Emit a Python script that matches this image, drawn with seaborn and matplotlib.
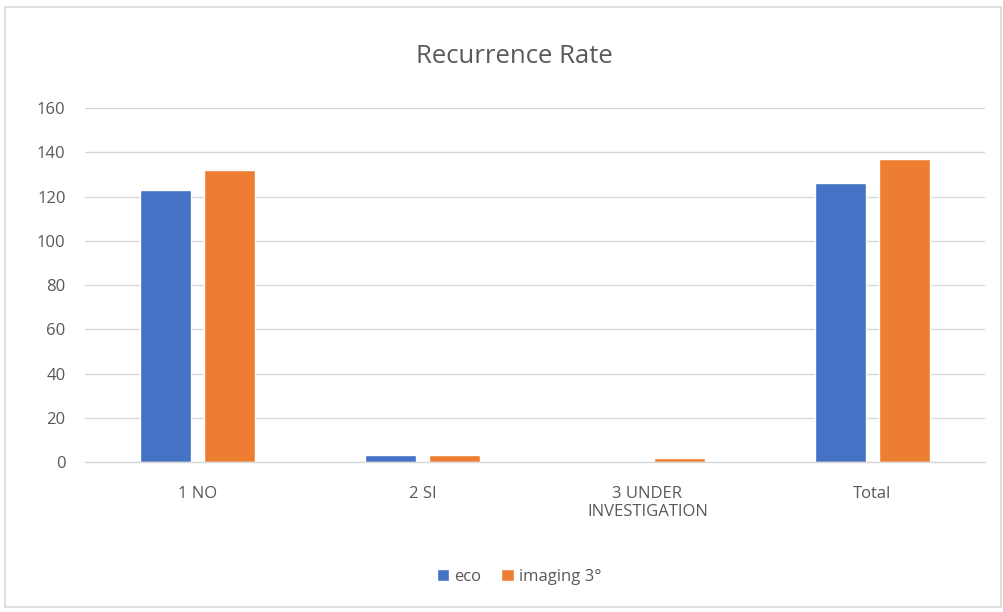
import matplotlib
matplotlib.use("Agg")
import matplotlib.pyplot as plt
from matplotlib.patches import Rectangle
import seaborn as sns
import pandas as pd

categories = ["1 NO", "2 SI", "3 UNDER\nINVESTIGATION", "Total"]
eco = [123, 3, 0, 126]
imaging = [132, 3, 2, 137]
series_names = ["eco", "imaging 3°"]
y_ticks = [0, 20, 40, 60, 80, 100, 120, 140, 160]

df = pd.DataFrame({
    "category": categories * 2,
    "series": [series_names[0]] * len(categories) + [series_names[1]] * len(categories),
    "value": eco + imaging,
})

sns.set_theme(style="white")
plt.rcParams["font.family"] = ["Open Sans", "DejaVu Sans"]

text_color = "#595959"
fig = plt.figure(figsize=(10.04, 6.12), dpi=100)
fig.patch.set_facecolor("white")
ax = fig.add_axes([0.0847, 0.245, 0.8963, 0.5785])

sns.barplot(data=df, x="category", y="value", hue="series",
            palette=["#4472C4", "#ED7D31"], width=0.565, gap=0.195,
            saturation=1, ax=ax, legend=True)

ax.set_ylim(0, 160)
ax.set_yticks(y_ticks)
ax.set_xlim(-0.5, len(categories) - 0.5)
ax.yaxis.grid(True, color="#D9D9D9", linewidth=1)
ax.set_axisbelow(True)
for side in ["top", "right", "left"]:
    ax.spines[side].set_visible(False)
ax.spines["bottom"].set_color("#D9D9D9")
ax.spines["bottom"].set_linewidth(1)
ax.tick_params(axis="both", length=0, colors=text_color, labelsize=12)
ax.tick_params(axis="x", pad=17)
ax.tick_params(axis="y", pad=14)
ax.set_xlabel("")
ax.set_ylabel("")

fig.text(0.512, 0.907, "Recurrence Rate", ha="center", va="center",
         fontsize=18.5, color=text_color)

handles, labels = ax.get_legend_handles_labels()
ax.legend_.remove()
fig.legend(handles, labels, loc="center", bbox_to_anchor=(0.517, 0.057),
           ncol=2, frameon=False, fontsize=12, labelcolor=text_color,
           handlelength=0.75, handleheight=0.75, handletextpad=0.3,
           columnspacing=1.2)

fig.patches.append(Rectangle((0.005, 0.008), 0.992, 0.98, transform=fig.transFigure,
                             fill=False, edgecolor="#D9D9D9", linewidth=1.2))

fig.savefig("out.png", dpi=100, facecolor="white")
